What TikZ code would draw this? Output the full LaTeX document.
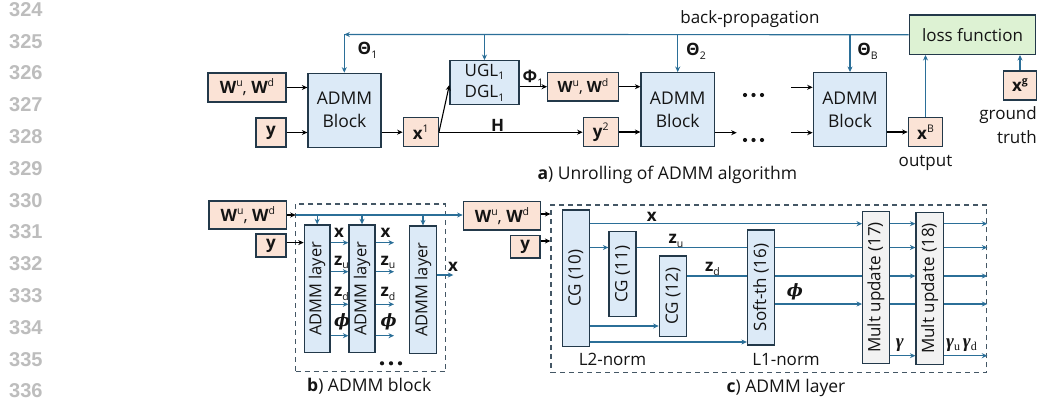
\documentclass[tikz,border=0pt]{standalone}
\usepackage{fontspec}
\setmainfont{Open Sans}
\newfontfamily\lnfont{Liberation Sans}
\newfontfamily\serifsub{Liberation Serif}
\newfontfamily\grk{DejaVu Serif}
\usepackage{graphicx}
\usetikzlibrary{arrows.meta,calc}
\definecolor{peach}{HTML}{FBE3D6}
\definecolor{lblue}{HTML}{DCEAF7}
\definecolor{lgreen}{HTML}{DDF2D3}
\definecolor{lgray}{HTML}{F2F2F2}
\definecolor{edge}{HTML}{23394A}
\definecolor{tealc}{HTML}{2B6F98}
\definecolor{txt}{HTML}{141414}
\definecolor{lngray}{HTML}{BDBDBD}
\newcommand\upi[1]{\raisebox{0.42em}{\fontsize{10.5}{11}\selectfont\mdseries#1}}
\newcommand\dni[1]{\raisebox{-0.22em}{\fontsize{10.5}{11}\selectfont\mdseries#1}}
\newcommand\dns[1]{\raisebox{-0.2em}{\fontsize{12}{12}\selectfont\serifsub#1}}
\newcommand\bphi{{\grk\bfseries\itshape ϕ}}
\newcommand\bgam{{\serifsub\bfseries\itshape\fontsize{19}{20}\selectfont γ}}
\begin{document}
\begin{tikzpicture}[x=1pt,y=-1pt,
  font=\fontsize{17}{22}\selectfont, text=txt,
  box/.style={draw=edge, line width=1.3pt, inner sep=0pt, align=center},
  pbox/.style={box, fill=peach},
  bbox/.style={box, fill=lblue},
  gbox/.style={box, fill=lgreen},
  gybox/.style={box, fill=lgray},
  dbox/.style={draw=edge!85, line width=1.2pt, dash pattern=on 5pt off 4pt, inner sep=0pt},
  barrow/.style={draw=black, line width=1.1pt, -{Stealth[length=5.5pt,width=5pt]}},
  tarrow/.style={draw=tealc, line width=1.2pt, -{Stealth[length=5.5pt,width=5pt]}},
  tline/.style={draw=tealc, line width=1.2pt},
  lbl/.style={inner sep=0pt},
  lnum/.style={inner sep=0pt, anchor=west, text=lngray, font=\lnfont\bfseries\fontsize{20}{20}\selectfont},
]
\useasboundingbox (0,0) rectangle (1039,404);
\fill[white] (0,0) rectangle (1039,404);

% line numbers
\foreach \i [count=\k from 0] in {324,...,336}
  \node[lnum] (ln\i) at (9,{9.5+31.8*\k}) {\i};

% ---------------- part a ----------------
\node[pbox, minimum width=78pt, minimum height=29pt] (wu1) at (247,87.5) {\textbf{W}\upi{u}, \textbf{W}\upi{d}};
\node[pbox, minimum width=30pt, minimum height=29pt] (y1) at (271,132.5) {\textbf{y}};
\node[bbox, minimum width=73pt, minimum height=74pt, font=\fontsize{17.5}{23}\selectfont] (blk1) at (344.5,110.3) {ADMM\\Block};
\node[pbox, minimum width=35pt, minimum height=29pt] (x1) at (420.8,132.2) {\textbf{x}\upi{1}};
\node[bbox, minimum width=69pt, minimum height=43.6pt, font=\fontsize{17}{21.5}\selectfont] (ugl) at (484.5,82.5) {UGL\dni{1}\\DGL\dni{1}};
\node[pbox, minimum width=70.6pt, minimum height=28.7pt, font=\fontsize{15.5}{18}\selectfont] (wu2) at (583,86.7) {\textbf{W}\upi{u}, \textbf{W}\upi{d}};
\node[pbox, minimum width=35pt, minimum height=29.4pt] (y2) at (600.8,132) {\textbf{y}\upi{2}};
\node[bbox, minimum width=73.3pt, minimum height=74pt, font=\fontsize{17.5}{23}\selectfont] (blk2) at (677.7,109.7) {ADMM\\Block};
\node[bbox, minimum width=73.4pt, minimum height=74pt, font=\fontsize{17.5}{23}\selectfont] (blkB) at (850,109.7) {ADMM\\Block};
\node[pbox, minimum width=34.4pt, minimum height=29.4pt] (xB) at (925.5,132) {\textbf{x}\upi{B}};
\node[gbox, minimum width=126.4pt, minimum height=39.3pt] (loss) at (972.5,34.7) {loss function};
\node[pbox, minimum width=33.4pt, minimum height=29pt] (xg) at (1020,85.5) {\textbf{x}\upi{\textbf{g}}};

\node[lbl] (th1) at (367.5,50) {\textbf{Θ}\dni{1}};
\node[lbl] (th2) at (696,51.7) {\textbf{Θ}\dni{2}};
\node[lbl] (thB) at (867.5,51.7) {\textbf{Θ}\dni{B}};
\node[lbl] (phi1) at (533,78) {\textbf{Φ}\dni{1}};
\node[lbl] (hl) at (497.5,125) {\textbf{H}};
\node[lbl] (bp) at (750,19.3) {back-propagation};
\node[lbl] (outl) at (925.5,162.7) {output};
\node[lbl, align=right, anchor=east, font=\fontsize{17}{24}\selectfont] (gt) at (1037,125) {ground\\truth};
\node[lbl, font=\fontsize{17.5}{22}\selectfont] (capa) at (667.3,175) {\textbf{a}) Unrolling of ADMM algorithm};

\coordinate (fb) at (344.3,34.5);
\draw[tarrow] (loss.west) -- (fb);
\draw[tarrow] (fb) -- (fb |- blk1.north);
\draw[tarrow] (ugl.north |- fb) -- (ugl.north);
\draw[tarrow] (blk2.north |- fb) -- (blk2.north);
\draw[tarrow] (blkB.north |- fb) -- (blkB.north);

\draw[barrow] (wu1.east) -- (wu1.east -| blk1.west);
\draw[barrow] (y1.east) -- (y1.east -| blk1.west);
\draw[barrow] (blk1.east |- x1.west) -- (x1.west);
\draw[barrow] (x1.east) -- ($(ugl.west)+(0,2.5)$);
\draw[barrow] (x1.east) -- (x1.east -| y2.west);
\draw[barrow] (ugl.east |- wu2.west) -- (wu2.west);
\draw[barrow] (wu2.east) -- (wu2.east -| blk2.west);
\draw[barrow] (y2.east) -- (y2.east -| blk2.west);
\coordinate (b2o) at (736.7,132.7);
\draw[barrow] (blk2.east |- b2o) -- (b2o);
\coordinate (bBi1) at (791,87.3);
\coordinate (bBi2) at (791,132.7);
\draw[barrow] (bBi1) -- (bBi1 -| blkB.west);
\draw[barrow] (bBi2) -- (bBi2 -| blkB.west);
\draw[barrow] (blkB.east |- xB.west) -- (xB.west);
\draw[tarrow] (xB.north) -- (xB.north |- loss.south);
\draw[tarrow] (xg.north) -- (xg.north |- loss.south);

\foreach \xx in {745,753.5,762} {
  \fill[txt] (\xx,95) circle (2.1pt);
  \fill[txt] (\xx,140) circle (2.1pt);
}

% ---------------- part b ----------------
\node[pbox, minimum width=77.7pt, minimum height=28pt] (wu3) at (247.8,215) {\textbf{W}\upi{u}, \textbf{W}\upi{d}};
\node[pbox, minimum width=30pt, minimum height=23pt] (y3) at (271,245.6) {\textbf{y}};
\node[dbox, minimum width=150pt, minimum height=167.7pt] (frb) at (370.7,287.85) {};
\node[bbox, minimum width=25.7pt, minimum height=127.7pt, font=\fontsize{16.5}{20}\selectfont] (l1) at (317.2,288.8) {\rotatebox{90}{ADMM layer}};
\node[bbox, minimum width=26pt, minimum height=127.7pt, font=\fontsize{16.5}{20}\selectfont] (l2) at (362,288.8) {\rotatebox{90}{ADMM layer}};
\node[bbox, minimum width=27.4pt, minimum height=127.3pt, font=\fontsize{16.5}{20}\selectfont] (l3) at (423,289.7) {\rotatebox{90}{ADMM layer}};

\node[pbox, minimum width=77.4pt, minimum height=28.3pt] (wu4) at (502,215.8) {\textbf{W}\upi{u}, \textbf{W}\upi{d}};
\node[pbox, minimum width=29.5pt, minimum height=22.3pt] (y4) at (525.3,246.8) {\textbf{y}};

\coordinate (wb) at (295.7,215);
\draw[barrow] (wu3.east) -- (wb);
\draw[tarrow] (wb) -- (wb -| wu4.west);
\foreach \n in {l1,l2,l3}
  \draw[tarrow] (\n.north |- wb) -- (\n.north);
\draw[barrow] ([yshift=3pt]y3.east) -- ([yshift=3pt]y3.east -| l1.west);

\foreach \yy in {242.7,271.7,304.3,335.7} {
  \coordinate (r) at (394,\yy);
  \draw[tarrow] (l1.east |- r) -- (l2.west |- r);
  \draw[tarrow] (l2.east |- r) -- (r);
}
\coordinate (l3o) at (453.3,275);
\draw[tarrow] (l3.east |- l3o) -- (l3o);

\foreach \xx/\nm in {333.8/a,380.5/b} {
  \node[lbl, anchor=base west] (bx\nm) at (\xx,237) {\textbf{x}};
  \node[lbl, anchor=base west] (bzu\nm) at (\xx,265) {\textbf{z}\dni{u}};
  \node[lbl, anchor=base west] (bzd\nm) at (\xx,296.5) {\textbf{z}\dni{d}};
  \node[lbl, anchor=base west] (bph\nm) at (\xx,326.5) {\bphi};
}
\node[lbl, anchor=base] (bx3) at (453,271.5) {\textbf{x}};
\foreach \xx in {382,391,400}
  \fill[txt] (\xx,363.3) circle (2.1pt);
\node[lbl, font=\fontsize{17.5}{22}\selectfont] (capb) at (369.2,386.7) {\textbf{b}) ADMM block};

% ---------------- part c ----------------
\node[dbox, minimum width=435.7pt, minimum height=167.7pt] (frc) at (768.85,288.85) {};
\draw[barrow] ([yshift=1.8pt]wu4.east) -- ([yshift=1.8pt]wu4.east -| frc.west);
\draw[barrow] ([yshift=5.8pt]y4.east) -- ([yshift=5.8pt]y4.east -| frc.west);

\node[bbox, minimum width=27pt, minimum height=136.7pt] (cg10) at (575.8,278.3) {\rotatebox{90}{CG (10)}};
\node[bbox, minimum width=27pt, minimum height=85pt] (cg11) at (622.5,274.2) {\rotatebox{90}{CG (11)}};
\node[bbox, minimum width=27.4pt, minimum height=80.7pt] (cg12) at (673,296.3) {\rotatebox{90}{CG (12)}};
\node[bbox, minimum width=26.8pt, minimum height=115pt] (soft) at (760.9,287.5) {\rotatebox{90}{Soft-th (16)}};
\node[gybox, minimum width=26.6pt, minimum height=151.6pt] (m17) at (876,287.5) {\rotatebox{90}{Mult update (17)}};
\node[gybox, minimum width=27.3pt, minimum height=151.6pt] (m18) at (929.7,288.5) {\rotatebox{90}{Mult update (18)}};

\coordinate (cx) at (0,223.7);
\coordinate (cu) at (0,247.5);
\coordinate (cd) at (0,276);
\coordinate (cp) at (0,304);
\coordinate (c12) at (0,326);
\coordinate (cs) at (0,342);
\coordinate (cg) at (0,355.7);

\draw[tarrow] (cg10.east |- cx) -- (m17.west |- cx);
\draw[tarrow] (m17.east |- cx) -- (m18.west |- cx);
\draw[tarrow] (m18.east |- cx) -- (frc.east |- cx);

\draw[tarrow] (cg10.east |- cu) -- (cg11.west |- cu);
\draw[tline] (cg11.east |- cu) -- (soft.west |- cu);
\draw[tline] (soft.east |- cu) -- (m17.west |- cu);
\draw[tarrow] (m17.east |- cu) -- (m18.west |- cu);
\draw[tarrow] (m18.east |- cu) -- (frc.east |- cu);

\draw[tline] (cg12.east |- cd) -- (soft.west |- cd);
\draw[tline] (soft.east |- cd) -- (m17.west |- cd);
\draw[tarrow] (m17.east |- cd) -- (m18.west |- cd);
\draw[tarrow] (m18.east |- cd) -- (frc.east |- cd);

\draw[tarrow] (soft.east |- cp) -- (m17.west |- cp);
\draw[tline] (m17.east |- cp) -- (m18.west |- cp);
\draw[tarrow] (m18.east |- cp) -- (frc.east |- cp);

\draw[tarrow] (cg10.east |- c12) -- (cg12.west |- c12);
\draw[tarrow] (cg10.east |- cs) -- (soft.west |- cs);

\draw[tarrow] (m17.east |- cg) -- (m18.west |- cg);
\draw[tarrow] (m18.east |- cg) -- (frc.east |- cg);

\node[lbl, anchor=base west] (cxl) at (646.7,221) {\textbf{x}};
\node[lbl, anchor=base west] (czu) at (668.3,243.5) {\textbf{z}\dni{u}};
\node[lbl, anchor=base west] (czd) at (705,271.7) {\textbf{z}\dni{d}};
\node[lbl, anchor=base west] (cph) at (786.7,296) {\bphi};
\node[lbl, anchor=base west] (cgm) at (895.7,347) {\bgam};
\node[lbl, anchor=base west] (cgud) at (946,347) {\bgam\dns{u}\,\bgam\dns{d}};
\node[lbl] (l2n) at (612.5,359.3) {L2-norm};
\node[lbl] (l1n) at (786,360) {L1-norm};
\node[lbl, font=\fontsize{17.5}{22}\selectfont] (capc) at (786,388.3) {\textbf{c}) ADMM layer};
\end{tikzpicture}
\end{document}
